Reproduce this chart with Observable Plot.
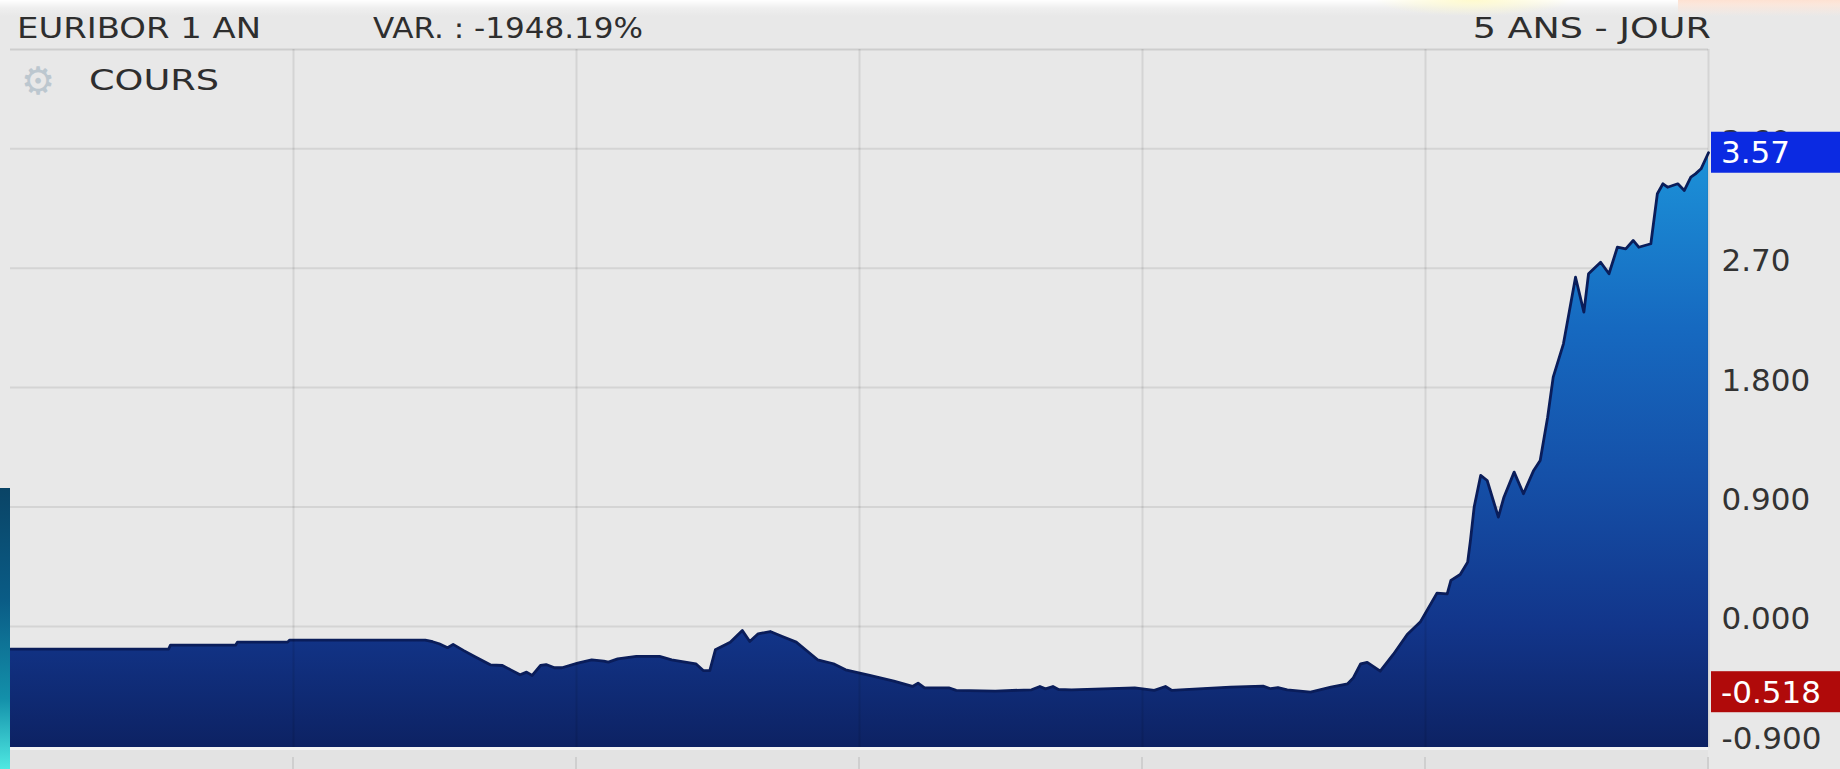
<!DOCTYPE html>
<html><head><meta charset="utf-8">
<script src="https://cdn.jsdelivr.net/npm/d3@7"></script>
<script src="https://cdn.jsdelivr.net/npm/@observablehq/plot@0.6"></script>
<style>
html,body{margin:0;padding:0;background:#e8e8e8;width:1840px;height:769px;overflow:hidden;position:relative;}
#header{position:relative;height:49px;background:linear-gradient(#ffffff 0px,#efefef 8px,#e8e8e8 16px);}
.h{position:absolute;font-family:"DejaVu Sans";font-size:28px;line-height:28px;color:#2e2e2e;white-space:nowrap;z-index:5;}
.blob{position:absolute;top:0;height:16px;z-index:1;}
#chart{position:absolute;left:0;top:49px;}
#teal{position:absolute;left:0;top:488px;width:10px;height:281px;background:linear-gradient(#0a4466,#0a5c86 40%,#1390aa 75%,#4fe9e2);z-index:4;}
</style></head>
<body>
<div id="header">
  <div class="blob" style="left:1373px;width:200px;background:radial-gradient(ellipse at 50% 0%,rgba(255,250,200,0.9),rgba(255,250,200,0) 70%);"></div>
  <div class="blob" style="left:1678px;width:162px;background:linear-gradient(rgba(253,222,205,0.9),rgba(253,222,205,0));"></div>
  <div class="h" data-left="17" data-w="244" style="top:15px;">EURIBOR 1 AN</div>
  <div class="h" data-left="373" data-w="270" style="top:15px;">VAR. : -1948.19%</div>
  <div class="h" data-right="1711" data-w="238" style="top:15px;">5 ANS - JOUR</div>
</div>
<div class="h" data-left="89" data-w="130" style="top:67px;">COURS</div>
<div class="h" style="left:21px;top:62px;font-size:38px;line-height:38px;color:#bcc7cf;">⚙</div>
<div id="teal"></div>
<div id="chart"></div>
<script>
// ---- data (days since start date, rate in %) ----
const startDate = new Date(Date.UTC(2018, 1, 9));
const dayOffsets = [0,170,172,242,244,298,300,446,454,461,470,476,487,499,516,529,538,548,555,561,570,576,585,593,610,625,638,643,653,673,698,711,719,737,745,752,758,774,787,795,804,817,830,845,856,868,885,898,924,950,970,976,983,1009,1017,1059,1098,1107,1113,1121,1127,1141,1209,1230,1242,1249,1258,1312,1347,1355,1363,1373,1398,1420,1438,1444,1452,1459,1473,1487,1502,1516,1534,1545,1549,1559,1567,1570,1574,1581,1588,1600,1606,1617,1627,1638,1645,1653,1659,1670,1683,1692,1697,1710,1719,1728,1737,1745,1751,1764,1771,1777,1782,1793,1800,1807,1812,1818,1826];
const rates = [-0.170,-0.170,-0.141,-0.141,-0.118,-0.118,-0.103,-0.103,-0.115,-0.130,-0.160,-0.135,-0.180,-0.226,-0.289,-0.294,-0.327,-0.364,-0.344,-0.369,-0.294,-0.287,-0.311,-0.311,-0.276,-0.251,-0.261,-0.269,-0.244,-0.226,-0.226,-0.251,-0.261,-0.281,-0.332,-0.332,-0.176,-0.118,-0.030,-0.113,-0.055,-0.038,-0.075,-0.118,-0.181,-0.251,-0.281,-0.327,-0.369,-0.412,-0.452,-0.427,-0.462,-0.462,-0.482,-0.487,-0.477,-0.452,-0.470,-0.452,-0.475,-0.477,-0.462,-0.482,-0.452,-0.482,-0.477,-0.457,-0.449,-0.469,-0.460,-0.477,-0.495,-0.457,-0.432,-0.387,-0.281,-0.270,-0.337,-0.211,-0.060,0.033,0.251,0.246,0.347,0.392,0.485,0.648,0.900,1.138,1.100,0.824,0.974,1.163,1.000,1.176,1.251,1.577,1.879,2.130,2.632,2.369,2.658,2.745,2.658,2.858,2.846,2.909,2.858,2.884,3.261,3.336,3.310,3.336,3.286,3.386,3.411,3.449,3.570];
const yTickValues = [-0.9, 0, 0.9, 1.8, 2.7, 3.6];
const yTickLabels = ["-0.900", "0.000", "0.900", "1.800", "2.70", "3.60"];
const lastValue = 3.57, lastLabel = "3.57";
const minValue = -0.518, minLabel = "-0.518";
const yDomain = [-0.912, 4.348];

const data = dayOffsets.map((d, i) => ({date: new Date(startDate.getTime() + d * 864e5), value: rates[i]}));
const endDate = data[data.length - 1].date;
const gridDates = d3.range(1, 7).map(k => new Date(+startDate + k * (endDate - startDate) / 6));

const W = 1840, H = 720, mL = 10, mR = 132, mT = 0, mB = 22;
const chart = Plot.plot({
  width: W, height: H, marginLeft: mL, marginRight: mR, marginTop: mT, marginBottom: mB,
  style: {background: "transparent", overflow: "visible"},
  x: {type: "utc", domain: [startDate, endDate], axis: null},
  y: {domain: yDomain, axis: null},
  marks: [
    Plot.ruleY(yTickValues.filter(v => v >= 0), {stroke: "#d4d4d4", strokeWidth: 2}),
    Plot.ruleY([yDomain[1]], {stroke: "#cdcdcd", strokeWidth: 2}),
    Plot.areaY(data, {x: "date", y1: yDomain[0], y2: "value", fill: "url(#areaGrad)"}),
    Plot.line(data, {x: "date", y: "value", stroke: "#0a1d5a", strokeWidth: 2.8}),
    Plot.ruleX(gridDates, {stroke: "#000", strokeOpacity: 0.085, strokeWidth: 2}),
    Plot.text(yTickLabels, {y: yTickValues, text: d => d, frameAnchor: "right", dx: 13, dy: -7, textAnchor: "start", fontSize: 31, fill: "#333", fontFamily: "DejaVu Sans"})
  ]
});
document.getElementById("chart").appendChild(chart);

const ys = chart.scale("y"), xs = chart.scale("x");
const svg = d3.select(chart);
const defs = svg.insert("defs", ":first-child");
const grad = defs.append("linearGradient").attr("id", "areaGrad").attr("gradientUnits", "userSpaceOnUse")
  .attr("x1", 0).attr("x2", 0).attr("y1", ys.apply(3.6)).attr("y2", ys.apply(yDomain[0]));
[[0, "#1c93d9"], [0.3, "#1669c0"], [0.55, "#1550a8"], [0.8, "#12358a"], [1, "#0d2263"]]
  .forEach(([o, c]) => grad.append("stop").attr("offset", o).attr("stop-color", c));

// lower band under the frame
const bottom = H - mB;
svg.append("rect").attr("x", mL).attr("y", bottom).attr("width", W - mL - mR).attr("height", 3).attr("fill", "#f4f4f4");
svg.append("rect").attr("x", mL).attr("y", bottom + 3).attr("width", W - mL - mR).attr("height", mB - 3).attr("fill", "#e3e3e3");
gridDates.forEach(d => svg.append("line").attr("x1", xs.apply(d)).attr("x2", xs.apply(d))
  .attr("y1", bottom + 10).attr("y2", H).attr("stroke", "#cfcfcf").attr("stroke-width", 2));

// value tags
function tag(v, label, color, shift) {
  const cy = ys.apply(v) + shift;
  svg.append("rect").attr("x", W - mR + 3).attr("y", cy - 20.5).attr("width", mR - 3).attr("height", 41).attr("fill", color);
  svg.append("text").attr("x", W - mR + 13).attr("y", cy).attr("dy", "0.35em").attr("fill", "#fff")
    .attr("text-anchor", "start").attr("font-family", "DejaVu Sans").attr("font-size", 31).text(label);
}
tag(lastValue, lastLabel, "#0b2ae2", 0);
tag(minValue, minLabel, "#b00a0a", -3);

// stretch header texts to the reference's widths
document.querySelectorAll(".h[data-w]").forEach(el => {
  const w = el.getBoundingClientRect().width;
  const s = (+el.dataset.w) / w;
  if (el.dataset.left) { el.style.left = el.dataset.left + "px"; el.style.transformOrigin = "left center"; }
  else { el.style.left = (+el.dataset.right - w) + "px"; el.style.transformOrigin = "right center"; }
  el.style.transform = `scaleX(${s})`;
});
</script>
</body></html>
